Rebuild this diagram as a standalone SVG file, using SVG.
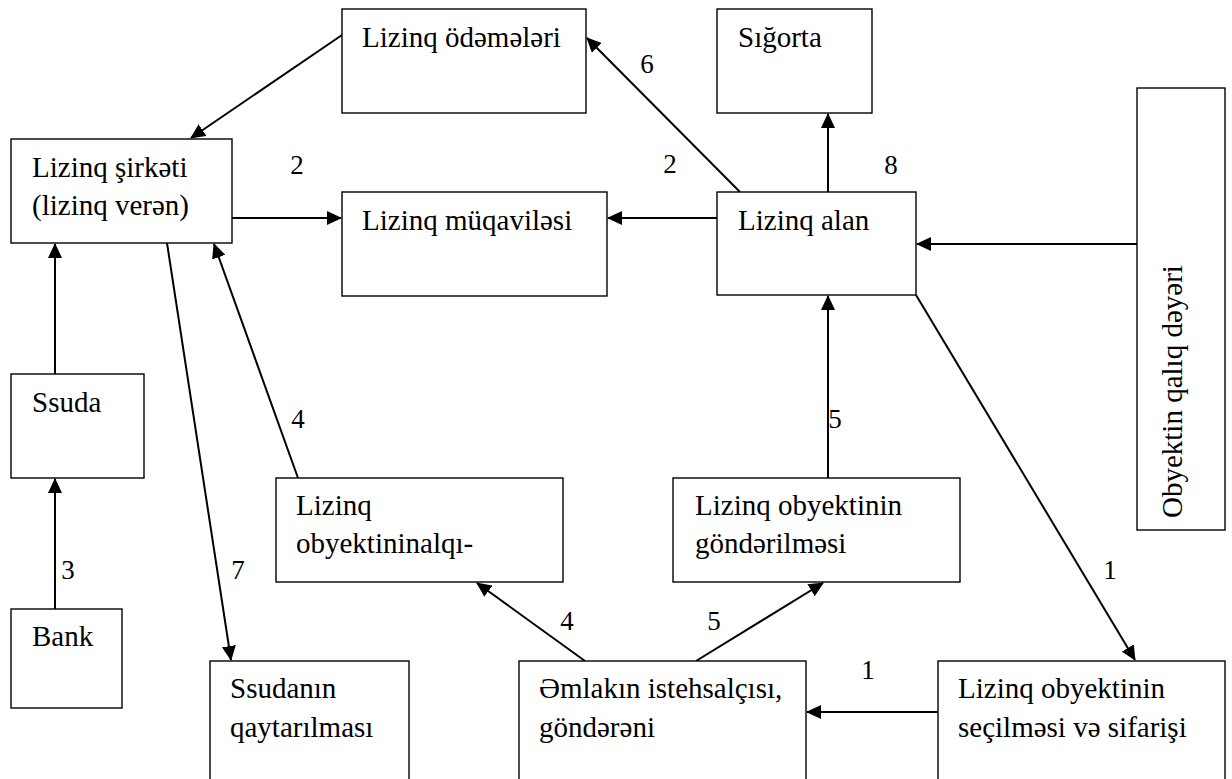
<svg xmlns="http://www.w3.org/2000/svg" width="1232" height="779" viewBox="0 0 1232 779">
  <style>
    .box { fill: #ffffff; stroke: #000000; stroke-width: 1.4; }
    .lbl { font-family: "Liberation Serif", "Times New Roman", serif; font-size: 29px; fill: #000000; }
    .num { font-family: "Liberation Serif", "Times New Roman", serif; font-size: 27px; fill: #000000; text-anchor: middle; }
    .edge { fill: none; stroke: #000000; stroke-width: 2; marker-end: url(#arrow); }
  </style>
  <defs>
    <marker id="arrow" markerUnits="userSpaceOnUse" markerWidth="15" markerHeight="14" refX="14" refY="7" orient="auto" viewBox="0 0 15 14">
      <path d="M0,0 L15,7 L0,14 Z" fill="#000000"/>
    </marker>
  </defs>
  <rect width="1232" height="779" fill="#ffffff"/>

  <g id="connectors">
    <line class="edge" x1="342" y1="35" x2="191" y2="138"/>
    <line class="edge" x1="232" y1="218" x2="341" y2="218"/>
    <line class="edge" x1="717" y1="218" x2="608" y2="218"/>
    <line class="edge" x1="740" y1="192" x2="587" y2="38"/>
    <line class="edge" x1="828" y1="192" x2="828" y2="114"/>
    <line class="edge" x1="1137" y1="244" x2="917" y2="244"/>
    <line class="edge" x1="916" y1="295" x2="1135" y2="660"/>
    <line class="edge" x1="828" y1="478" x2="828" y2="296"/>
    <line class="edge" x1="55" y1="374" x2="55" y2="244"/>
    <line class="edge" x1="55" y1="609" x2="55" y2="479"/>
    <line class="edge" x1="167" y1="243" x2="231" y2="660"/>
    <line class="edge" x1="298" y1="478" x2="214" y2="244"/>
    <line class="edge" x1="585" y1="661" x2="477" y2="583"/>
    <line class="edge" x1="696" y1="661" x2="823" y2="583"/>
    <line class="edge" x1="938" y1="712" x2="807" y2="712"/>
  </g>

  <g id="step-numbers">
    <text class="num" x="297" y="174">2</text>
    <text class="num" x="647" y="73">6</text>
    <text class="num" x="670" y="173">2</text>
    <text class="num" x="891" y="174">8</text>
    <text class="num" x="298" y="428">4</text>
    <text class="num" x="835" y="428">5</text>
    <text class="num" x="68" y="579">3</text>
    <text class="num" x="238" y="579">7</text>
    <text class="num" x="567" y="630">4</text>
    <text class="num" x="714" y="630">5</text>
    <text class="num" x="868" y="679">1</text>
    <text class="num" x="1110" y="579">1</text>
  </g>

  <g id="node-odemeler">
    <rect class="box" x="342" y="9" width="244" height="104"/>
    <text class="lbl" x="362" y="47">Lizinq ödəmələri</text>
  </g>
  <g id="node-sigorta">
    <rect class="box" x="717" y="9" width="155" height="104"/>
    <text class="lbl" x="738" y="47">Sığorta</text>
  </g>
  <g id="node-sirket">
    <rect class="box" x="11" y="139" width="221" height="104"/>
    <text class="lbl" x="32" y="177">Lizinq şirkəti</text>
    <text class="lbl" x="32" y="215">(lizinq verən)</text>
  </g>
  <g id="node-muqavile">
    <rect class="box" x="342" y="192" width="265" height="104"/>
    <text class="lbl" x="362" y="230">Lizinq müqaviləsi</text>
  </g>
  <g id="node-alan">
    <rect class="box" x="717" y="192" width="199" height="103"/>
    <text class="lbl" x="738" y="230">Lizinq alan</text>
  </g>
  <g id="node-qaliq">
    <rect class="box" x="1137" y="88" width="88" height="442"/>
    <text class="lbl" transform="translate(1182,518) rotate(-90)">Obyektin qalıq dəyəri</text>
  </g>
  <g id="node-ssuda">
    <rect class="box" x="11" y="374" width="133" height="104"/>
    <text class="lbl" x="32" y="412">Ssuda</text>
  </g>
  <g id="node-bank">
    <rect class="box" x="11" y="609" width="111" height="99"/>
    <text class="lbl" x="32" y="646">Bank</text>
  </g>
  <g id="node-alqi">
    <rect class="box" x="276" y="478" width="287" height="104"/>
    <text class="lbl" x="296" y="515">Lizinq</text>
    <text class="lbl" x="296" y="553">obyektininalqı-</text>
  </g>
  <g id="node-gonderilme">
    <rect class="box" x="673" y="478" width="287" height="104"/>
    <text class="lbl" x="695" y="515">Lizinq obyektinin</text>
    <text class="lbl" x="695" y="553">göndərilməsi</text>
  </g>
  <g id="node-ssuda-qaytarilmasi">
    <rect class="box" x="210" y="661" width="199" height="140"/>
    <text class="lbl" x="230" y="698">Ssudanın</text>
    <text class="lbl" x="230" y="737">qaytarılması</text>
  </g>
  <g id="node-emlak">
    <rect class="box" x="519" y="661" width="287" height="140"/>
    <text class="lbl" x="539" y="698">Əmlakın istehsalçısı,</text>
    <text class="lbl" x="539" y="737">göndərəni</text>
  </g>
  <g id="node-secilme">
    <rect class="box" x="938" y="661" width="287" height="140"/>
    <text class="lbl" x="958" y="698">Lizinq obyektinin</text>
    <text class="lbl" x="958" y="737">seçilməsi və sifarişi</text>
  </g>
</svg>
